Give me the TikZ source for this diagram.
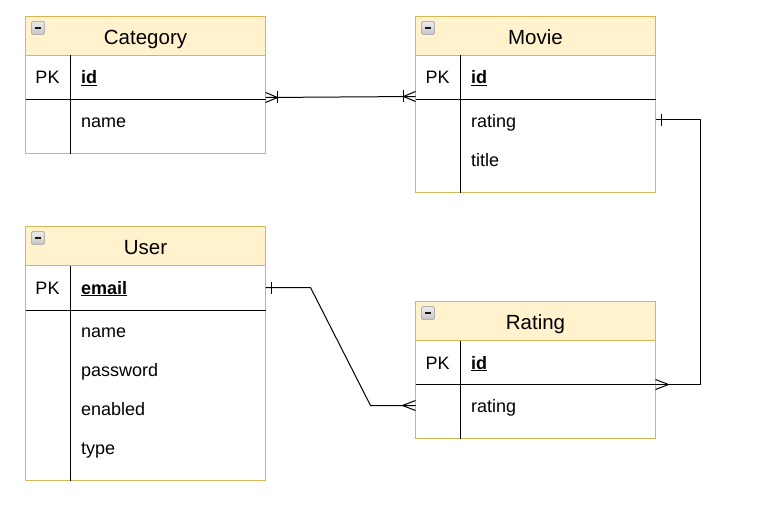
\documentclass[tikz,border=0pt]{standalone}
\usepackage{fontspec}
\setmainfont{Liberation Sans}
\definecolor{hdrfill}{HTML}{FFF2CC}
\definecolor{hdrline}{HTML}{D6B656}
\tikzset{
  onemany/.pic={\draw (0,-5) -- (12,0) -- (0,5); \draw (12,-6) -- (12,6);},
  many/.pic={\draw (0,-5) -- (13,0) -- (0,5);},
  one/.pic={\draw (6,-6) -- (6,6);},
  minusbox/.pic={\draw[gray!60,top color=gray!15,bottom color=gray!45,line width=0.8pt,rounded corners=1.5] (0,0) rectangle (13,13);
    \draw[gray!20!black,line width=1.6pt] (3.5,6.5) -- (9.5,6.5);}
}

\begin{document}
\begin{tikzpicture}[x=1pt,y=-1pt,line width=1pt,
  hdr/.style={draw=hdrline,fill=hdrfill,minimum width=240,minimum height=39,anchor=north west,inner sep=0,outer sep=0},
  title/.style={anchor=base,inner sep=0,font=\fontsize{20.5}{24}\selectfont},
  pk/.style={anchor=base,inner sep=0,font=\fontsize{18}{22}\selectfont},
  field/.style={anchor=base west,inner sep=0,font=\fontsize{18}{22}\selectfont}]
\useasboundingbox (0,0) rectangle (759,508);
\begin{scope}[xshift=0.5pt,yshift=-0.5pt]
% Category
\node[hdr] (cat) at (25,16) {};
\node[title] (cat-title) at (145,44) {Category};
\pic at (31,21) {minusbox};
\draw[hdrline] (25,55) rectangle (265,153);
\draw (25,99) -- (265,99);
\draw (70,55) -- (70,153);
\node[pk] (cat-pk) at (47,83.5) {PK};
\node[field] (cat-id) at (80,83.5) {\underline{\textbf{id}}};
\node[field] (cat-name) at (80,126.5) {name};
% Movie
\node[hdr] (mov) at (415,16) {};
\node[title] (mov-title) at (535,44) {Movie};
\pic at (421,21) {minusbox};
\draw[hdrline] (415,55) rectangle (655,192);
\draw (415,99) -- (655,99);
\draw (460,55) -- (460,192);
\node[pk] (mov-pk) at (437,83.5) {PK};
\node[field] (mov-id) at (470,83.5) {\underline{\textbf{id}}};
\node[field] (mov-rating) at (470,126.5) {rating};
\node[field] (mov-ttl) at (470,165.5) {title};
% User
\node[hdr] (usr) at (25,226) {};
\node[title] (usr-title) at (145,254) {User};
\pic at (31,231) {minusbox};
\draw[hdrline] (25,265) rectangle (265,480);
\draw (25,310) -- (265,310);
\draw (70,265) -- (70,480);
\node[pk] (usr-pk) at (47,293.5) {PK};
\node[field] (usr-email) at (80,293.5) {\underline{\textbf{email}}};
\node[field] (usr-name) at (80,336.5) {name};
\node[field] (usr-pass) at (80,375.5) {password};
\node[field] (usr-enabled) at (80,414.5) {enabled};
\node[field] (usr-type) at (80,453.5) {type};
% Rating
\node[hdr] (rat) at (415,301) {};
\node[title] (rat-title) at (535,329) {Rating};
\pic at (421,306) {minusbox};
\draw[hdrline] (415,340) rectangle (655,438);
\draw (415,384) -- (655,384);
\draw (460,340) -- (460,438);
\node[pk] (rat-pk) at (437,368.5) {PK};
\node[field] (rat-id) at (470,368.5) {\underline{\textbf{id}}};
\node[field] (rat-rating) at (470,411.5) {rating};
% connectors
\coordinate (cat-r) at (265,97);
\coordinate (mov-l) at (415,96);
\coordinate (mov-r) at (655,119);
\coordinate (rat-r) at (655,384);
\coordinate (usr-r) at (265,287);
\coordinate (rat-l) at (415,405);
\draw (cat-r) -- (mov-l);
\pic at (cat-r) {onemany};
\pic[rotate=180] at (mov-l) {onemany};
\draw (mov-r) -- (700,119) -- (700,384) -- (rat-r);
\pic at (mov-r) {one};
\pic at (rat-r) {many};
\draw (usr-r) -- (310,287) -- (370,405) -- (rat-l);
\pic at (usr-r) {one};
\pic[rotate=180] at (rat-l) {many};
\end{scope}
\end{tikzpicture}
\end{document}
